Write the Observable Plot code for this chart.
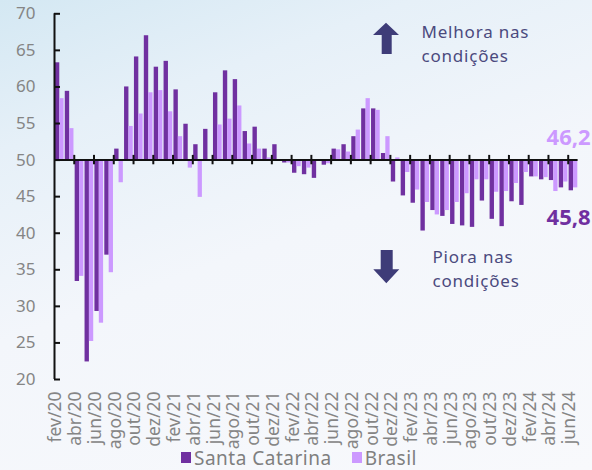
<!DOCTYPE html>
<html>
<head>
<meta charset="utf-8">
<script src="https://cdn.jsdelivr.net/npm/d3@7"></script>
<script src="https://cdn.jsdelivr.net/npm/@observablehq/plot@0.6"></script>
<style>
html, body { margin: 0; padding: 0; }
body {
  width: 592px; height: 470px; overflow: hidden; position: relative;
  background: linear-gradient(160deg, #d4e8f3 0%, #e6f0f8 22%, #f3f6fb 50%, #f8f9fc 100%);
  font-family: "Noto Sans", sans-serif;
}
#chart svg { display: block; }
#legend {
  position: absolute; left: 0; top: 445px; width: 592px; height: 25px;
  display: flex; align-items: center; padding-left: 181px; box-sizing: border-box;
  font-size: 19px; color: #7f7f7f; letter-spacing: 0.5px;
}
#legend .sw { display: inline-block; width: 10px; height: 11px; margin-right: 3px; }
#legend .item { display: flex; align-items: center; }
#legend .item + .item { margin-left: 20px; }
</style>
</head>
<body>
<div id="chart"></div>
<div id="legend"></div>
<script>
const months = [
  "fev/20","mar/20","abr/20","mai/20","jun/20","jul/20","ago/20","set/20","out/20","nov/20","dez/20",
  "jan/21","fev/21","mar/21","abr/21","mai/21","jun/21","jul/21","ago/21","set/21","out/21","nov/21","dez/21",
  "jan/22","fev/22","mar/22","abr/22","mai/22","jun/22","jul/22","ago/22","set/22","out/22","nov/22","dez/22",
  "jan/23","fev/23","mar/23","abr/23","mai/23","jun/23","jul/23","ago/23","set/23","out/23","nov/23","dez/23",
  "jan/24","fev/24","mar/24","abr/24","mai/24","jun/24"
];
const santaCatarina = [
  63.3, 59.4, 33.4, 22.4, 29.3, 37.0, 51.5, 60.0, 64.1, 67.0,
  62.7, 63.5, 59.6, 54.9, 52.1, 54.2, 59.2, 62.2, 61.0, 53.9,
  54.5, 51.5, 52.1, 49.6, 48.2, 48.0, 47.5, 49.3, 51.5, 52.1,
  53.2, 57.0, 57.0, 50.9, 47.0, 45.1, 44.1, 40.3, 43.1, 42.3,
  41.2, 41.0, 40.8, 44.4, 41.9, 40.9, 44.3, 43.8, 47.7, 47.3,
  47.2, 46.2, 45.8
];
const brasil = [
  58.4, 54.3, 34.1, 25.2, 27.7, 34.6, 46.9, 54.6, 56.3, 59.2,
  59.5, 56.6, 53.2, 48.9, 44.9, 50.0, 54.8, 55.6, 57.4, 52.2,
  51.5, 50.3, 50.0, 49.6, 49.1, 48.9, 49.9, 49.5, 51.4, 51.1,
  54.1, 58.4, 56.8, 53.2, 50.3, 48.3, 45.9, 44.2, 42.5, 43.1,
  44.2, 45.4, 47.3, 47.3, 45.6, 45.7, 46.8, 48.3, 47.7, 47.6,
  45.7, 47.0, 46.2
];
const seriesNames = ["Santa Catarina", "Brasil"];
const yTicks = [20, 25, 30, 35, 40, 45, 50, 55, 60, 65, 70];
const baseline = 50;

const SC = "#7030a0";
const BR = "#cc99ff";
const AXIS = "#111111";
const GRAY = "#858585";
const NAVY = "#3e3c78";
const TXT = "#4b4a7e";

const rows = months.map((m, i) => ({i, month: m, sc: santaCatarina[i], br: brasil[i]}));
const labelRows = rows.filter(d => d.i % 2 === 0);
const boundaryRows = labelRows.filter(d => d.i > 0);
const last = rows[rows.length - 1];
const fmt = v => v.toFixed(1).replace(".", ",");

const chart = Plot.plot({
  width: 592,
  height: 445,
  marginTop: 13.3,
  marginBottom: 66,
  marginLeft: 54,
  marginRight: 14.4,
  x: {domain: [0, months.length], axis: null},
  y: {domain: [20, 70], axis: null},
  style: {background: "transparent", fontFamily: "'Noto Sans', sans-serif", overflow: "visible"},
  marks: [
    Plot.rect(rows, {x1: "i", x2: d => d.i + 1, y1: baseline, y2: "sc", fill: SC, insetLeft: 0.9, insetRight: 4.6}),
    Plot.rect(rows, {x1: "i", x2: d => d.i + 1, y1: baseline, y2: "br", fill: BR, insetLeft: 5.3, insetRight: 0.3}),
    Plot.ruleY([baseline], {stroke: AXIS, strokeWidth: 2}),
    Plot.ruleX(boundaryRows, {x: "i", y1: baseline, y2: baseline, insetTop: -4.7, insetBottom: -4.7, stroke: AXIS, strokeWidth: 2}),
    Plot.ruleX([0], {y1: 20, y2: 70, stroke: AXIS, strokeWidth: 2}),
    Plot.ruleY(yTicks, {y: d => d, x1: 0, x2: 0, insetRight: -6, stroke: AXIS, strokeWidth: 2}),
    Plot.text(yTicks, {y: d => d, frameAnchor: "left", textAnchor: "end", dx: -19, text: d => String(d), fontSize: 17, fill: GRAY}),
    Plot.text(labelRows, {x: d => d.i + 0.5, frameAnchor: "bottom", rotate: -90, textAnchor: "end", dy: 12, dx: 2, text: "month", fontSize: 17.5, fill: GRAY}),
    Plot.text([last], {x: d => d.i + 1, y: baseline, text: d => fmt(d.br), dy: -22, dx: 12.5, textAnchor: "end", fontWeight: 700, fontSize: 22, fill: BR}),
    Plot.text([last], {x: d => d.i + 1, y: baseline, text: d => fmt(d.sc), dy: 58, dx: 12.5, textAnchor: "end", fontWeight: 700, fontSize: 22, fill: SC})
  ]
});
document.getElementById("chart").appendChild(chart);

// annotations (decorative)
const svg = d3.select(chart);
svg.append("path")
  .attr("d", "M386,22.7 L399,35 L391.7,35 L391.7,54 L381.7,54 L381.7,35 L373,35 Z")
  .attr("fill", NAVY);
svg.append("path")
  .attr("d", "M380.7,250 L392.7,250 L392.7,269.3 L399.3,269.3 L386.3,283.3 L373.3,269.3 L380.7,269.3 Z")
  .attr("fill", NAVY);
const ann = [
  {t: "Melhora nas", x: 421.5, y: 38},
  {t: "condições", x: 421.5, y: 62},
  {t: "Piora nas", x: 432.5, y: 262.5},
  {t: "condições", x: 432.5, y: 286.5}
];
svg.append("g").attr("text-anchor", "start").selectAll("text").data(ann).join("text")
  .attr("x", d => d.x).attr("y", d => d.y)
  .attr("text-anchor", "start")
  .attr("fill", TXT)
  .attr("font-size", 17)
  .attr("letter-spacing", "0.8px")
  .attr("font-family", "'Noto Sans', sans-serif")
  .text(d => d.t);

// legend
const legend = d3.select("#legend");
[[seriesNames[0], SC], [seriesNames[1], BR]].forEach(([name, color]) => {
  const item = legend.append("span").attr("class", "item");
  item.append("span").attr("class", "sw").style("background", color);
  item.append("span").text(name);
});
</script>
</body>
</html>
